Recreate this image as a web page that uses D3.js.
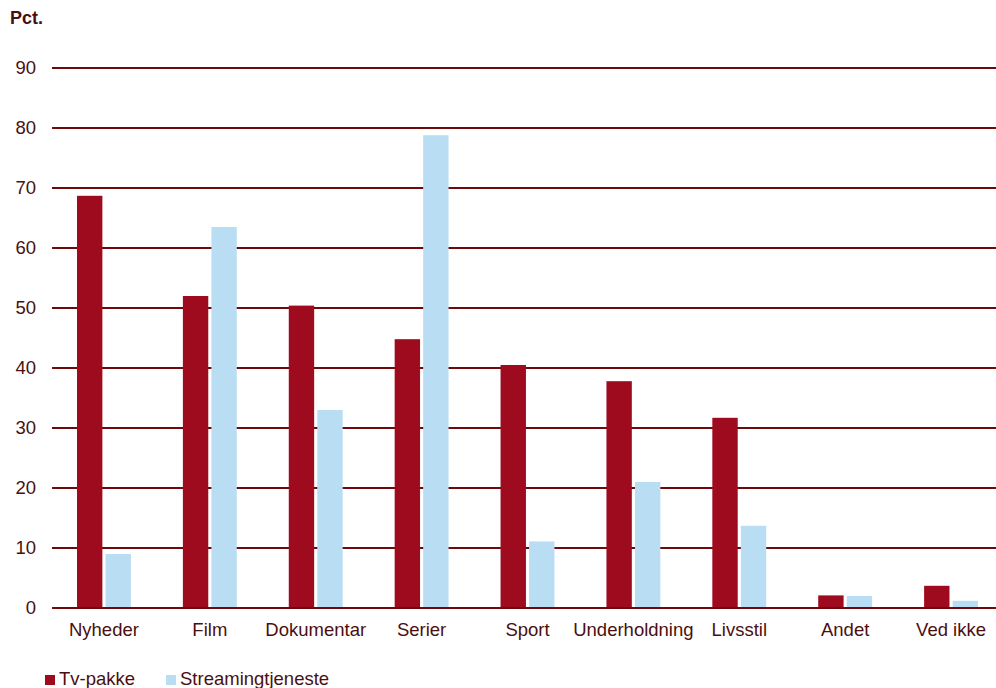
<!DOCTYPE html>
<html>
<head>
<meta charset="utf-8">
<script src="https://cdn.jsdelivr.net/npm/d3@7"></script>
<style>
  html, body { margin: 0; padding: 0; background: #fff; overflow: hidden; }
  svg { display: block; font-family: "Liberation Sans", Arial, sans-serif; }
</style>
</head>
<body>
<svg id="chart" width="996" height="688"></svg>
<script>
// Categories and series values (pct.)
const categories = ["Nyheder", "Film", "Dokumentar", "Serier", "Sport", "Underholdning", "Livsstil", "Andet", "Ved ikke"];
const tvPakke = [68.7, 52.0, 50.4, 44.8, 40.5, 37.8, 31.7, 2.1, 3.7];
const streaming = [9.0, 63.5, 33.0, 78.8, 11.1, 21.0, 13.7, 2.0, 1.2];
const seriesNames = ["Tv-pakke", "Streamingtjeneste"];
const yTicks = [0, 10, 20, 30, 40, 50, 60, 70, 80, 90];

const colors = ["#9e0b1f", "#b9def3"];
const textColor = "#4a0f0f";
const gridColor = "#6e0a0a";
const fontSize = 18.5;

const svg = d3.select("#chart");

const plotLeft = 52, plotRight = 1005, plotTop = 68, plotBottom = 608;

const x = d3.scaleBand().domain(categories).range([plotLeft, plotRight]).paddingInner(0).paddingOuter(0);
const inner = d3.scaleBand().domain(seriesNames).range([25, x.bandwidth() - 27]).paddingInner(0.11);
const y = d3.scaleLinear().domain([0, 90]).range([plotBottom, plotTop]);

// Horizontal gridlines
const gridG = svg.append("g");
gridG.selectAll("line").data(yTicks.filter(t => t !== 0)).join("line")
  .attr("x1", plotLeft).attr("x2", 996)
  .attr("y1", d => y(d)).attr("y2", d => y(d))
  .attr("stroke", gridColor).attr("stroke-width", 2);

// Y tick labels
svg.append("g").selectAll("text").data(yTicks).join("text")
  .attr("x", 36).attr("y", d => y(d))
  .attr("dy", "0.35em")
  .attr("text-anchor", "end")
  .attr("font-size", fontSize)
  .attr("fill", textColor)
  .text(d => d);

// Bars
const rows = categories.map((c, i) => ({ cat: c, vals: [tvPakke[i], streaming[i]] }));
const groups = svg.append("g").selectAll("g").data(rows).join("g")
  .attr("transform", d => `translate(${x(d.cat)},0)`);
groups.selectAll("rect").data(d => d.vals.map((v, j) => ({ v, name: seriesNames[j], j })))
  .join("rect")
  .attr("x", d => inner(d.name))
  .attr("width", inner.bandwidth())
  .attr("y", d => y(d.v))
  .attr("height", d => y(0) - y(d.v))
  .attr("fill", d => colors[d.j]);

// Zero baseline
svg.append("line")
  .attr("x1", plotLeft).attr("x2", 996)
  .attr("y1", y(0)).attr("y2", y(0))
  .attr("stroke", gridColor).attr("stroke-width", 2);

// Category labels
svg.append("g").selectAll("text").data(categories).join("text")
  .attr("x", d => x(d) + x.bandwidth() / 2 - 1)
  .attr("y", 636)
  .attr("text-anchor", "middle")
  .attr("font-size", fontSize)
  .attr("fill", textColor)
  .text(d => d);

// Axis unit
svg.append("text")
  .attr("x", 10).attr("y", 24)
  .attr("font-size", 18).attr("font-weight", "bold")
  .attr("fill", textColor)
  .text("Pct.");

// Legend
const legendX = [45, 166];
const legend = svg.append("g").selectAll("g").data(seriesNames).join("g")
  .attr("transform", (d, i) => `translate(${legendX[i]},0)`);
legend.append("rect")
  .attr("x", 0).attr("y", 675).attr("width", 10).attr("height", 10)
  .attr("fill", (d, i) => colors[i]);
legend.append("text")
  .attr("x", 14).attr("y", 685)
  .attr("font-size", fontSize)
  .attr("fill", textColor)
  .text(d => d);
</script>
</body>
</html>
